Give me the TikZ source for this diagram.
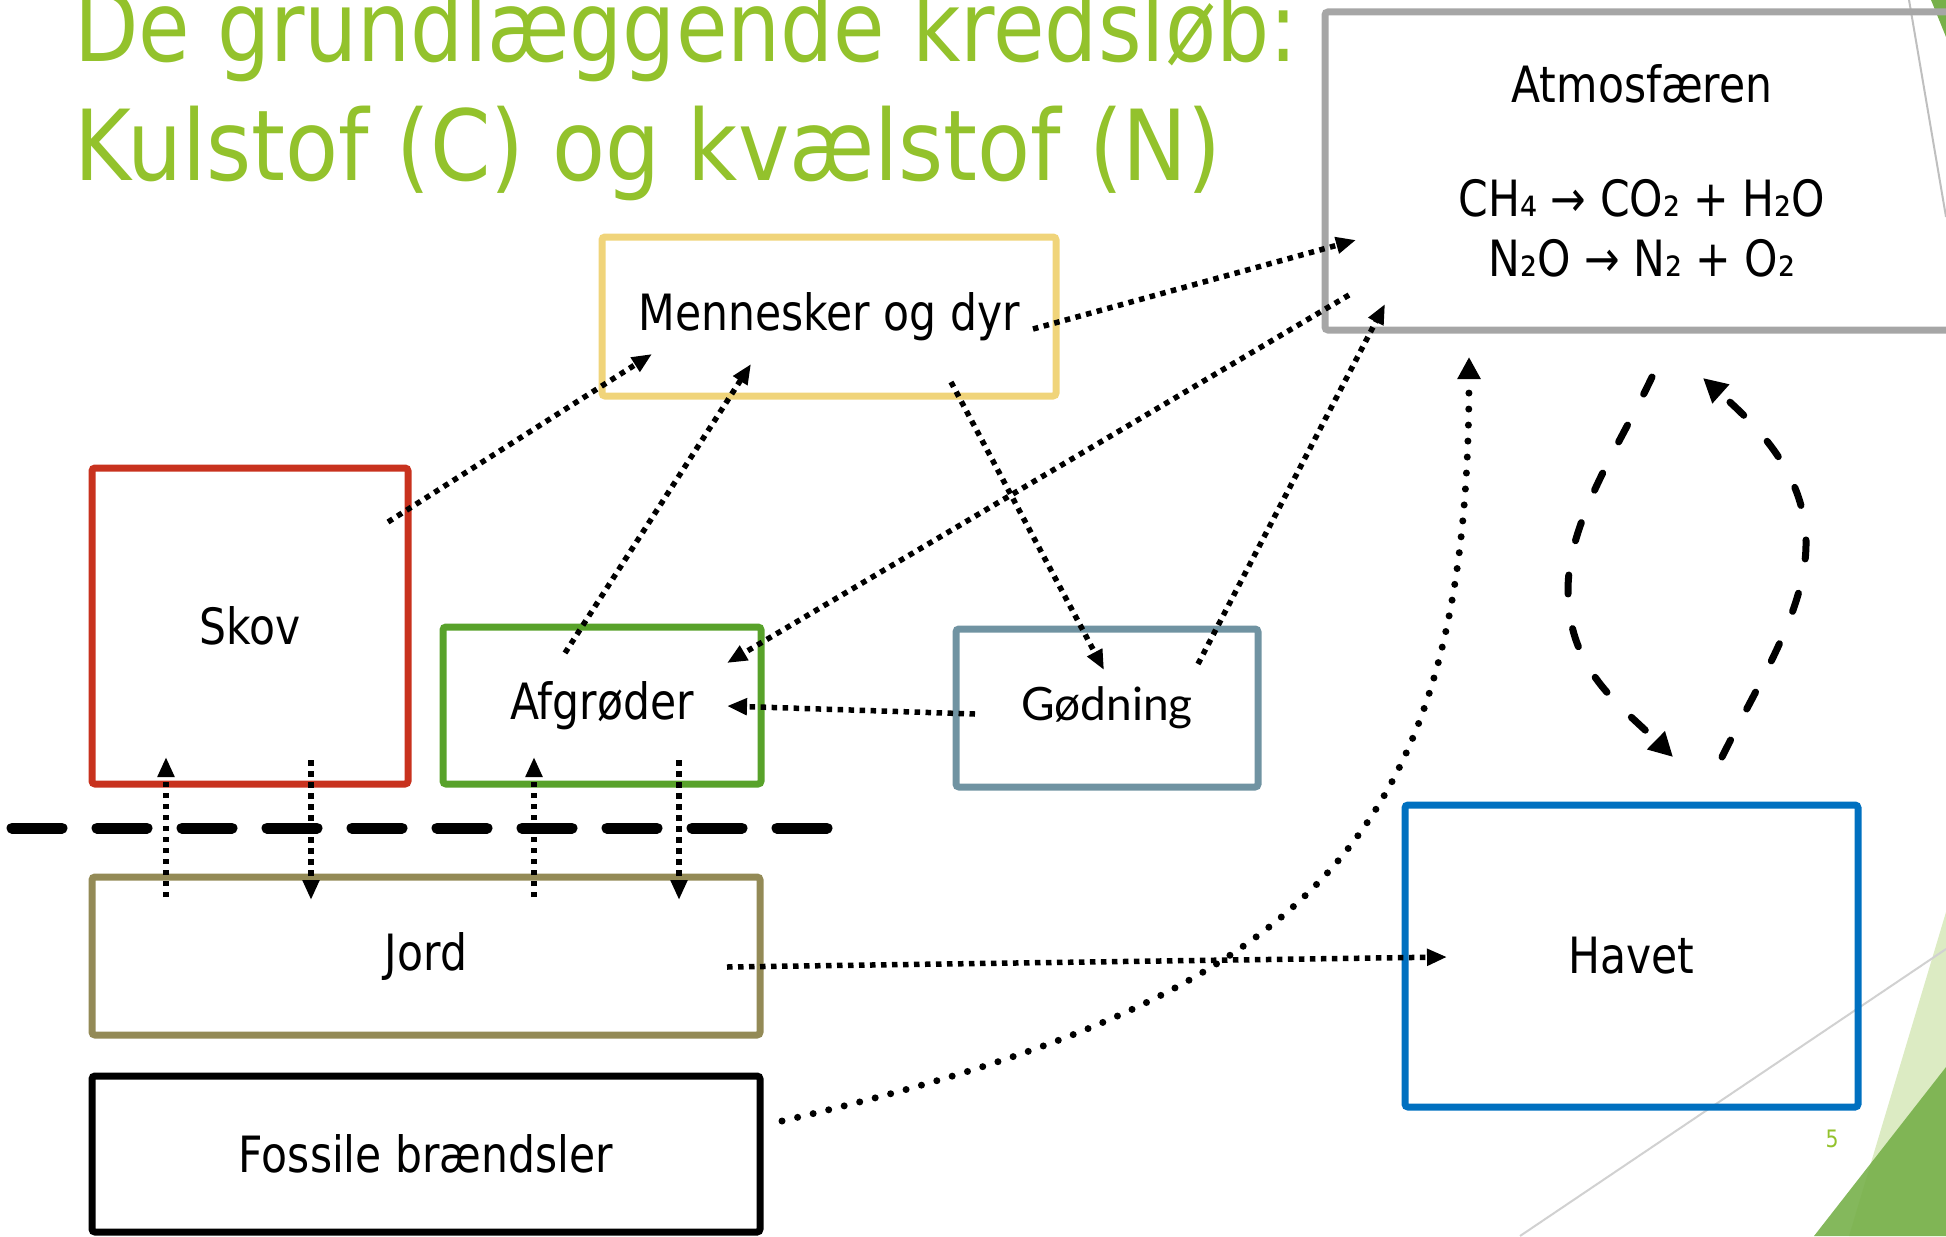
\documentclass[tikz,border=0pt]{standalone}
\usepackage{fontspec}
\setmainfont{DejaVu Sans}[FakeStretch=0.85]
\newfontfamily\latofont{Lato}
\newfontfamily\titlefont{DejaVu Sans}[FakeStretch=0.885]
\newfontfamily\titlefontnarrow{DejaVu Sans}[FakeStretch=0.855]
\usetikzlibrary{arrows.meta}

\definecolor{titlegreen}{HTML}{93C22C}
\definecolor{atmosgray}{HTML}{A6A6A6}
\definecolor{mennyellow}{HTML}{F0D47A}
\definecolor{skovred}{HTML}{C8321E}
\definecolor{afgrgreen}{HTML}{58A22A}
\definecolor{goedblue}{HTML}{7093A2}
\definecolor{jordolive}{HTML}{938A56}
\definecolor{havetblue}{HTML}{0070C0}
\definecolor{lightleaf}{HTML}{DCEBC3}
\definecolor{darkleaf}{HTML}{77B04A}

\begin{document}
\begin{tikzpicture}[x=0.5pt,y=-0.5pt,
    box/.style={draw,line width=3.5pt,rounded corners=1.5pt,inner sep=0pt,
                font=\fontsize{25}{30}\selectfont},
    flow/.style={line width=2.75pt,dash pattern=on 2.75pt off 2.75pt,
                 -{Triangle[length=10pt,width=8pt]}},
    burn/.style={line width=3.5pt,line cap=round,dash pattern=on 0pt off 8pt,
                 -{Triangle[length=11pt,width=11pt]}},
    exchange/.style={line width=3.5pt,line cap=round,dash pattern=on 9.5pt off 17.5pt,
                 -{Triangle[length=12pt,width=12pt]}},
    soilline/.style={line width=5.5pt,line cap=round,dash pattern=on 25pt off 17.5pt},
    heading/.style={anchor=base west,inner sep=0pt,text=titlegreen,
                 font=\titlefont\fontsize{49}{59}\selectfont}]
	\useasboundingbox (0,0) rectangle (1946,1236);

	% slide decoration
	\fill[lightleaf] (1946,912) -- (1849,1236) -- (1946,1236) -- cycle;
	\fill[darkleaf,opacity=0.9] (1946,1067) -- (1814,1236) -- (1946,1236) -- cycle;
	\fill[darkleaf] (1931,0) -- (1946,0) -- (1946,37) -- cycle;
	\draw[black!18,line width=1pt] (1946,949) -- (1520,1236);
	\draw[black!25,line width=1pt] (1909,0) -- (1946,217);

	\node[heading,font=\titlefontnarrow\fontsize{49}{59}\selectfont] (title1) at (74,62) {De grundlæggende kredsløb:};
	\node[heading] (title2) at (74,180) {Kulstof (C) og kvælstof (N)};

	\node[box,draw=atmosgray,minimum width=317pt,minimum height=159pt,align=center]
	     (atmos) at (1642,171)
	     {Atmosfæren\\[27pt]CH₄ → CO₂ + H₂O\\N₂O → N₂ + O₂};
	\node[box,draw=mennyellow,minimum width=227pt,minimum height=79.5pt] (menn) at (829,316.5) {Mennesker og dyr};
	\node[box,draw=skovred,minimum width=158pt,minimum height=158pt] (skov) at (250,626) {Skov};
	\node[box,draw=afgrgreen,minimum width=159pt,minimum height=78.5pt] (afgr) at (602,705.5) {Afgrøder};
	\node[box,draw=goedblue,minimum width=151pt,minimum height=79pt,
	      font=\latofont\fontsize{23}{28}\selectfont] (goed) at (1107,708) {Gødning};
	\node[box,draw=jordolive,minimum width=334pt,minimum height=79pt] (jord) at (426,956) {Jord};
	\node[box,draw=black,minimum width=334pt,minimum height=78pt] (foss) at (426,1154) {Fossile brændsler};
	\node[box,draw=havetblue,minimum width=226.5pt,minimum height=151pt] (havet) at (1631.5,956) {Havet};

	\node[text=titlegreen,font=\fontsize{12}{12}\selectfont] (pagenum) at (1832,1139) {5};

	\path[soilline] (12,828) edge (832,828);

	\path[flow]
	([shift={(138,-104)}]skov.center) edge ([shift={(-177,37.5)}]menn.center)
	([shift={(-37,-52.5)}]afgr.center) edge ([shift={(-78,47.5)}]menn.center)
	([shift={(204,12.5)}]menn.center) edge ([shift={(-286,69)}]atmos.center)
	([shift={(-293,124)}]atmos.center) edge ([shift={(125,-42.5)}]afgr.center)
	([shift={(122,65.5)}]menn.center) edge ([shift={(-3,-38)}]goed.center)
	([shift={(91,-44)}]goed.center) edge ([shift={(-257,133)}]atmos.center)
	([shift={(-132,6)}]goed.center) edge ([shift={(125,0.5)}]afgr.center)
	([shift={(-260,-59)}]jord.center) edge ([shift={(-84,131)}]skov.center)
	([shift={(61,134)}]skov.center) edge ([shift={(-115,-56)}]jord.center)
	([shift={(108,-59)}]jord.center) edge ([shift={(-68,51.5)}]afgr.center)
	([shift={(77,54.5)}]afgr.center) edge ([shift={(253,-56)}]jord.center)
	([shift={(301,11)}]jord.center) edge ([shift={(-184.5,1)}]havet.center);

	\draw[burn] ([shift={(356,-33)}]foss.center)
	     .. controls (1300,1000) and (1469,850) .. ([shift={(-173,186)}]atmos.center);

	\draw[exchange] ([shift={(10,206)}]atmos.center)
	     .. controls (1620,445) and (1568,520) .. (1568,590)
	     .. controls (1568,670) and (1620,705) .. ([shift={(41.5,-199)}]havet.center);
	\draw[exchange] ([shift={(90.5,-199)}]havet.center)
	     .. controls (1760,680) and (1806,610) .. (1806,543)
	     .. controls (1806,470) and (1750,420) .. ([shift={(61,207)}]atmos.center);
\end{tikzpicture}
\end{document}
